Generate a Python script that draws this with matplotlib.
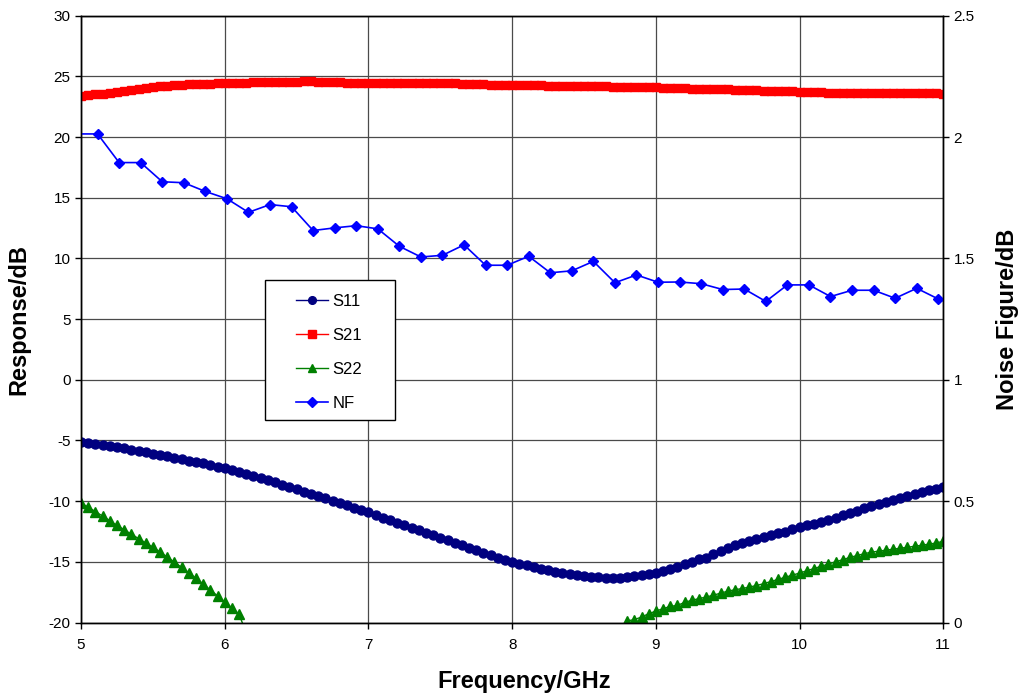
import numpy as np
import matplotlib
matplotlib.use("Agg")
import matplotlib.pyplot as plt
from matplotlib.patches import Rectangle

plt.rcParams['font.family'] = ['Liberation Sans', 'DejaVu Sans']
plt.rcParams['axes.unicode_minus'] = False

# S-parameter sweep, 5 to 11 GHz in 0.05 GHz steps
freq = np.linspace(5, 11, 121)

s11 = [-5.15, -5.22, -5.30, -5.38, -5.47, -5.56, -5.66, -5.76, -5.87, -5.98,
       -6.10, -6.20, -6.31, -6.42, -6.53, -6.65, -6.77, -6.89, -7.02, -7.15,
       -7.28, -7.44, -7.60, -7.77, -7.94, -8.11, -8.28, -8.46, -8.64, -8.83,
       -9.02, -9.21, -9.40, -9.59, -9.78, -9.97, -10.16, -10.35, -10.55, -10.74,
       -10.93, -11.14, -11.35, -11.56, -11.77, -11.98, -12.19, -12.40, -12.60, -12.81,
       -13.02, -13.23, -13.44, -13.64, -13.85, -14.05, -14.25, -14.45, -14.65, -14.83,
       -15.00, -15.15, -15.30, -15.43, -15.58, -15.70, -15.80, -15.90, -15.99, -16.08,
       -16.16, -16.22, -16.28, -16.33, -16.36, -16.32, -16.25, -16.15, -16.06, -16.00,
       -15.90, -15.78, -15.62, -15.42, -15.20, -14.98, -14.80, -14.68, -14.35, -14.08,
       -13.85, -13.65, -13.48, -13.32, -13.15, -12.98, -12.82, -12.66, -12.50, -12.32,
       -12.15, -12.00, -11.86, -11.72, -11.56, -11.38, -11.18, -10.98, -10.78, -10.58,
       -10.38, -10.22, -10.08, -9.92, -9.74, -9.56, -9.40, -9.24, -9.10, -8.98,
       -8.82]

s21 = [23.38, 23.45, 23.52, 23.58, 23.66, 23.74, 23.83, 23.92, 24.00, 24.08,
       24.14, 24.20, 24.25, 24.29, 24.32, 24.34, 24.36, 24.38, 24.40, 24.42,
       24.43, 24.45, 24.47, 24.49, 24.51, 24.52, 24.54, 24.55, 24.56, 24.57,
       24.58, 24.59, 24.59, 24.58, 24.56, 24.53, 24.50, 24.47, 24.45, 24.44,
       24.42, 24.42, 24.43, 24.44, 24.45, 24.46, 24.47, 24.48, 24.48, 24.48,
       24.47, 24.45, 24.43, 24.41, 24.39, 24.37, 24.35, 24.33, 24.32, 24.31,
       24.30, 24.29, 24.28, 24.27, 24.26, 24.25, 24.24, 24.23, 24.22, 24.21,
       24.20, 24.19, 24.18, 24.17, 24.16, 24.15, 24.14, 24.13, 24.12, 24.11,
       24.10, 24.08, 24.06, 24.04, 24.02, 24.00, 23.98, 23.96, 23.95, 23.94,
       23.93, 23.91, 23.89, 23.87, 23.85, 23.83, 23.81, 23.79, 23.77, 23.76,
       23.74, 23.72, 23.70, 23.68, 23.66, 23.65, 23.64, 23.64, 23.63, 23.63,
       23.63, 23.63, 23.62, 23.62, 23.62, 23.61, 23.61, 23.61, 23.60, 23.60,
       23.59]

# S22 drops below the -20 dB floor between ~6.15 and ~8.75 GHz (not readable)
s22_low = [-10.15, -10.50, -10.86, -11.23, -11.61, -12.00, -12.36, -12.72, -13.08, -13.44,
           -13.80, -14.20, -14.61, -15.03, -15.46, -15.90, -16.36, -16.83, -17.32, -17.81,
           -18.30, -18.80, -19.32, -20.90]
s22_high = [-20.50, -19.87, -19.76, -19.55, -19.27, -19.06, -18.86, -18.67, -18.59, -18.34,
            -18.17, -18.03, -17.90, -17.75, -17.58, -17.42, -17.30, -17.20, -17.08, -16.95,
            -16.80, -16.62, -16.45, -16.27, -16.10, -15.92, -15.74, -15.55, -15.37, -15.18,
            -15.00, -14.82, -14.64, -14.48, -14.33, -14.20, -14.12, -14.04, -13.96, -13.88,
            -13.80, -13.72, -13.63, -13.54, -13.45, -13.30]
s22 = s22_low + [np.nan] * (121 - len(s22_low) - len(s22_high)) + s22_high

# noise figure, measured every 0.15 GHz
nf_freq = np.round(4.965 + 0.15 * np.arange(42), 3)
nf = [2.013, 2.013, 1.895, 1.895, 1.816, 1.812, 1.776, 1.746, 1.690, 1.722,
      1.713, 1.615, 1.626, 1.635, 1.622, 1.550, 1.506, 1.513, 1.556, 1.472,
      1.472, 1.509, 1.441, 1.449, 1.488, 1.400, 1.432, 1.402, 1.403, 1.396,
      1.372, 1.374, 1.323, 1.391, 1.391, 1.343, 1.369, 1.369, 1.336, 1.377,
      1.333, 1.300]

fig = plt.figure(figsize=(10.22, 6.93), dpi=100)
ax = fig.add_axes([0.0793, 0.1017, 0.8437, 0.8756])
ax2 = ax.twinx()

ax.grid(True, color='#4a4a4a', linewidth=0.9)
ax.set_axisbelow(True)

l1, = ax.plot(freq, s11, color='#000080', marker='o', markersize=6.5, linewidth=1, label='S11')
l2, = ax.plot(freq, s21, color='#FF0000', marker='s', markersize=6, linewidth=1, label='S21')
l3, = ax.plot(freq, s22, color='#008000', marker='^', markersize=7, linewidth=1, label='S22')
l4, = ax2.plot(nf_freq, nf, color='#0000FF', marker='D', markersize=5.5, linewidth=1.2, label='NF')

ax.set_xlim(5, 11)
ax.set_ylim(-20, 30)
ax.set_yticks(np.arange(-20, 31, 5))
ax.set_xticks(np.arange(5, 12, 1))
ax2.set_ylim(0, 2.5)
ax2.set_yticks([0, 0.5, 1, 1.5, 2, 2.5])
ax2.set_yticklabels(['0', '0.5', '1', '1.5', '2', '2.5'])

ax.tick_params(axis='both', direction='out', length=4, labelsize=11, width=1)
ax.tick_params(axis='x', pad=7)
ax2.tick_params(axis='y', direction='out', length=4, labelsize=11, width=1)
for a in (ax, ax2):
    for s in a.spines.values():
        s.set_color('black')
        s.set_linewidth(1)

ax.set_xlabel('Frequency/GHz', fontsize=17, fontweight='bold', labelpad=13)
ax.xaxis.label.set_x(0.514)
ax.set_ylabel('Response/dB', fontsize=17, fontweight='bold', labelpad=13)
ax2.set_ylabel('Noise Figure/dB', fontsize=17, fontweight='bold', labelpad=15)

# legend box drawn separately so entries sit centred with wide side margins
frame = Rectangle((265 / 1022, 1 - 420 / 693), 130 / 1022, 140 / 693,
                  transform=fig.transFigure, facecolor='white', edgecolor='black',
                  linewidth=1, zorder=5)
fig.patches.append(frame)
leg = fig.legend(handles=[l1, l2, l3, l4], loc='upper left',
                 bbox_to_anchor=(296 / 1022, 1 - 294 / 693),
                 fontsize=12, frameon=False, handlelength=1.9, labelspacing=1.13,
                 borderpad=0, handletextpad=0.3, borderaxespad=0, markerscale=0.85)
leg.set_zorder(6)

fig.savefig('out.png', dpi=100)
